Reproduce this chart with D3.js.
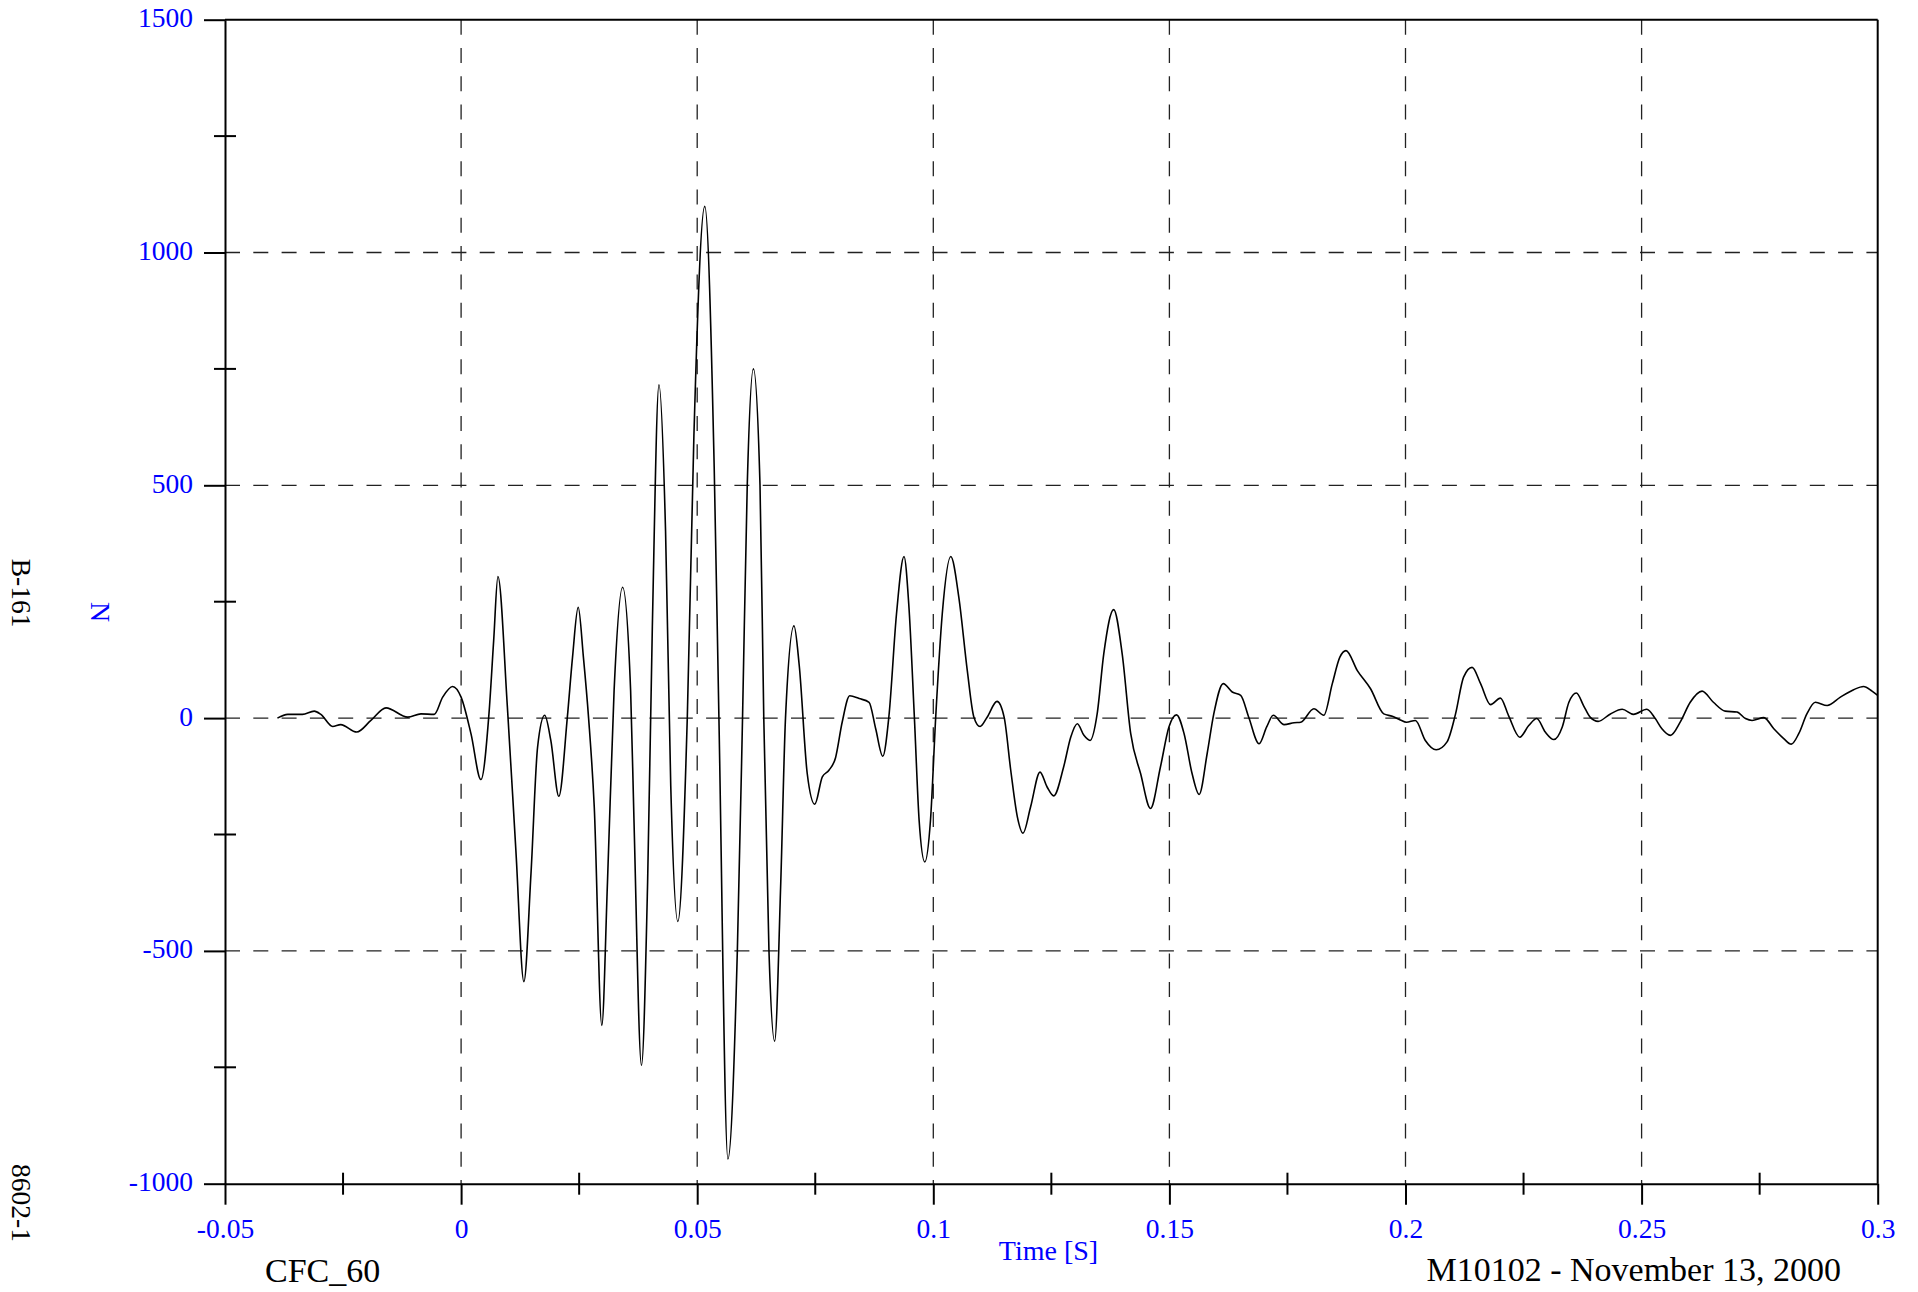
<!DOCTYPE html>
<html>
<head>
<meta charset="utf-8">
<script src="https://cdn.jsdelivr.net/npm/d3@7"></script>
<style>
  html, body { margin: 0; padding: 0; background: #fff; }
  svg { display: block; }
  text { font-family: "Liberation Serif", "Times New Roman", serif; }
</style>
</head>
<body>
<svg id="chart" width="1918" height="1292"></svg>
<script>
// Sensor force trace, CFC 60 filtered: time [s] and force [N]
const timeValues = [
  -0.0389, -0.0367, -0.0336, -0.0311, -0.0297, -0.0272, -0.0255, -0.0221, -0.0191, -0.0159,
  -0.0113, -0.0085, -0.0057, -0.0039, -0.0018, 0.0000, 0.0021, 0.0042, 0.0059, 0.0069,
  0.0078, 0.0098, 0.0116, 0.0133, 0.0148, 0.0162, 0.0177, 0.0190, 0.0207, 0.0225,
  0.0236, 0.0248, 0.0259, 0.0270, 0.0282, 0.0298, 0.0310, 0.0324, 0.0342, 0.0359,
  0.0366, 0.0382, 0.0395, 0.0405, 0.0419, 0.0433, 0.0444, 0.0459, 0.0479, 0.0493,
  0.0516, 0.0536, 0.0546, 0.0565, 0.0585, 0.0596, 0.0606, 0.0619, 0.0633, 0.0641,
  0.0652, 0.0664, 0.0677, 0.0687, 0.0705, 0.0716, 0.0733, 0.0749, 0.0765, 0.0779,
  0.0793, 0.0807, 0.0823, 0.0843, 0.0864, 0.0878, 0.0893, 0.0906, 0.0922, 0.0938,
  0.0948, 0.0960, 0.0970, 0.0982, 0.0994, 0.1005, 0.1019, 0.1037, 0.1054, 0.1072,
  0.1086, 0.1099, 0.1114, 0.1135, 0.1150, 0.1164, 0.1178, 0.1190, 0.1206, 0.1226,
  0.1241, 0.1255, 0.1276, 0.1291, 0.1305, 0.1319, 0.1332, 0.1347, 0.1361, 0.1382,
  0.1400, 0.1418, 0.1439, 0.1460, 0.1481, 0.1499, 0.1515, 0.1531, 0.1548, 0.1563,
  0.1580, 0.1594, 0.1614, 0.1633, 0.1651, 0.1668, 0.1690, 0.1706, 0.1720, 0.1743,
  0.1764, 0.1778, 0.1806, 0.1827, 0.1845, 0.1861, 0.1874, 0.1898, 0.1926, 0.1954,
  0.1972, 0.1989, 0.2002, 0.2021, 0.2042, 0.2065, 0.2088, 0.2106, 0.2123, 0.2141,
  0.2159, 0.2180, 0.2201, 0.2218, 0.2242, 0.2261, 0.2278, 0.2296, 0.2314, 0.2332,
  0.2346, 0.2362, 0.2377, 0.2391, 0.2408, 0.2434, 0.2459, 0.2483, 0.2511, 0.2529,
  0.2543, 0.2561, 0.2582, 0.2603, 0.2628, 0.2652, 0.2677, 0.2702, 0.2720, 0.2734,
  0.2759, 0.2780, 0.2801, 0.2817, 0.2833, 0.2850, 0.2868, 0.2893, 0.2921, 0.2949,
  0.2970, 0.2988, 0.3000
];
const forceValues = [
  0, 8, 8, 15, 8, -18, -14, -30, -5, 22,
  2, 9, 8, 45, 68, 45, -34, -132, 9, 167,
  304, 24, -284, -566, -334, -62, 6, -48, -168, 2,
  131, 238, 131, 0, -191, -660, -352, 59, 281, 59,
  -215, -746, -352, 196, 716, 401, -146, -437, 0, 606,
  1099, 538, 0, -947, -500, 0, 500, 750, 500, 0,
  -500, -694, -352, 0, 198, 114, -119, -185, -126, -112,
  -85, -9, 48, 42, 34, -23, -82, 4, 223, 347,
  245, 0, -220, -309, -220, 0, 224, 347, 260, 102,
  2, -18, 2, 36, 2, -112, -212, -247, -191, -116,
  -148, -167, -105, -41, -12, -37, -48, 9, 138, 233,
  138, -33, -119, -194, -105, -19, 7, -33, -119, -164,
  -76, 9, 74, 56, 49, 2, -55, -19, 6, -14,
  -10, -9, 20, 6, 74, 131, 145, 102, 63, 9,
  4, -4, -9, -5, -48, -68, -51, 9, 88, 109,
  74, 29, 43, 6, -41, -16, -1, -30, -46, -19,
  34, 54, 27, 2, -7, 9, 19, 8, 19, -1,
  -23, -37, -8, 34, 58, 34, 15, 13, -1, -5,
  1, -23, -44, -56, -33, 9, 34, 27, 45, 61,
  68, 58, 49
];

// Axis ticks and their labels
const xTicks = [-0.05, 0, 0.05, 0.1, 0.15, 0.2, 0.25, 0.3];
const xTickLabels = ["-0.05", "0", "0.05", "0.1", "0.15", "0.2", "0.25", "0.3"];
const xMinorTicks = [-0.025, 0.025, 0.075, 0.125, 0.175, 0.225, 0.275];
const yTicks = [1500, 1000, 500, 0, -500, -1000];
const yTickLabels = ["1500", "1000", "500", "0", "-500", "-1000"];
const yMinorTicks = [1250, 750, 250, -250, -750];
const xGrid = [0, 0.05, 0.1, 0.15, 0.2, 0.25];
const yGrid = [1000, 500, 0, -500];

const xTitle = "Time [S]";
const yTitle = "N";
const noteLeft = "CFC_60";
const noteRight = "M10102 - November 13, 2000";
const sideTop = "B-161";
const sideBottom = "8602-1";

const plot = { left: 225, right: 1877.7, top: 19.7, bottom: 1183.7 };
const blue = "#0000ff";

const svg = d3.select("#chart");
svg.append("rect").attr("width", 1918).attr("height", 1292).attr("fill", "#fff");

const x = d3.scaleLinear().domain([-0.05, 0.3]).range([plot.left, plot.right]);
const y = d3.scaleLinear().domain([-1000, 1500]).range([plot.bottom, plot.top]);

// dashed grid
const grid = svg.append("g")
  .attr("stroke", "#222")
  .attr("stroke-width", 1.3)
  .attr("stroke-dasharray", "15,13.3")
  .attr("fill", "none");
grid.selectAll("line.v").data(xGrid).join("line")
  .attr("class", "v")
  .attr("x1", d => x(d)).attr("x2", d => x(d))
  .attr("y1", plot.top).attr("y2", plot.bottom);
grid.selectAll("line.h").data(yGrid).join("line")
  .attr("class", "h")
  .attr("x1", plot.left).attr("x2", plot.right)
  .attr("y1", d => y(d)).attr("y2", d => y(d));

// force trace
const series = timeValues.map((t, i) => [t, forceValues[i]]);
const line = d3.line()
  .x(d => x(d[0]))
  .y(d => y(d[1]))
  .curve(d3.curveMonotoneX);
svg.append("path")
  .datum(series)
  .attr("d", line)
  .attr("fill", "none")
  .attr("stroke", "#000")
  .attr("stroke-width", 1.6)
  .attr("stroke-linejoin", "round");

// frame (top and right)
svg.append("line")
  .attr("x1", plot.left).attr("x2", plot.right)
  .attr("y1", plot.top).attr("y2", plot.top)
  .attr("stroke", "#000").attr("stroke-width", 2);
svg.append("line")
  .attr("x1", plot.right).attr("x2", plot.right)
  .attr("y1", plot.top).attr("y2", plot.bottom)
  .attr("stroke", "#000").attr("stroke-width", 2);

// y axis
const yAxis = svg.append("g")
  .attr("transform", `translate(${plot.left},0)`)
  .call(d3.axisLeft(y)
    .tickValues(yTicks)
    .tickSizeInner(21)
    .tickSizeOuter(0)
    .tickPadding(11)
    .tickFormat((d, i) => yTickLabels[i]));
yAxis.select(".domain").attr("stroke", "#000").attr("stroke-width", 2);
yAxis.selectAll(".tick line").attr("stroke", "#000").attr("stroke-width", 2);
yAxis.selectAll(".tick text")
  .attr("dy", "7px")
  .attr("fill", blue)
  .style("font-size", "27.5px")
  .style("font-family", "'Liberation Serif', 'Times New Roman', serif");

// x axis
const xAxis = svg.append("g")
  .attr("transform", `translate(0,${plot.bottom})`)
  .call(d3.axisBottom(x)
    .tickValues(xTicks)
    .tickSizeInner(21)
    .tickSizeOuter(0)
    .tickFormat((d, i) => xTickLabels[i]));
xAxis.select(".domain").attr("stroke", "#000").attr("stroke-width", 2);
xAxis.selectAll(".tick line").attr("stroke", "#000").attr("stroke-width", 2);
xAxis.selectAll(".tick text")
  .attr("y", 54)
  .attr("dy", 0)
  .attr("fill", blue)
  .style("font-size", "27.5px")
  .style("font-family", "'Liberation Serif', 'Times New Roman', serif");

// minor ticks crossing the axes
svg.append("g").selectAll("line").data(yMinorTicks).join("line")
  .attr("x1", plot.left - 11).attr("x2", plot.left + 11)
  .attr("y1", d => y(d)).attr("y2", d => y(d))
  .attr("stroke", "#000").attr("stroke-width", 2);
svg.append("g").selectAll("line").data(xMinorTicks).join("line")
  .attr("x1", d => x(d)).attr("x2", d => x(d))
  .attr("y1", plot.bottom - 11).attr("y2", plot.bottom + 11)
  .attr("stroke", "#000").attr("stroke-width", 2);

// axis titles
svg.append("text")
  .attr("x", 1048.5).attr("y", 1260)
  .attr("text-anchor", "middle")
  .attr("fill", blue)
  .style("font-size", "28px")
  .text(xTitle);
svg.append("text")
  .attr("transform", "translate(91,612) rotate(90)")
  .attr("text-anchor", "middle")
  .attr("fill", blue)
  .style("font-size", "28px")
  .text(yTitle);

// footer notes
svg.append("text")
  .attr("x", 265).attr("y", 1282)
  .attr("fill", "#000")
  .style("font-size", "34px")
  .text(noteLeft);
svg.append("text")
  .attr("x", 1841).attr("y", 1281)
  .attr("text-anchor", "end")
  .attr("fill", "#000")
  .style("font-size", "34px")
  .text(noteRight);

// side identifiers
svg.append("text")
  .attr("transform", "translate(12,593) rotate(90)")
  .attr("text-anchor", "middle")
  .attr("fill", "#000")
  .style("font-size", "27.5px")
  .text(sideTop);
svg.append("text")
  .attr("transform", "translate(12,1203) rotate(90)")
  .attr("text-anchor", "middle")
  .attr("fill", "#000")
  .style("font-size", "27.5px")
  .text(sideBottom);
</script>
</body>
</html>
